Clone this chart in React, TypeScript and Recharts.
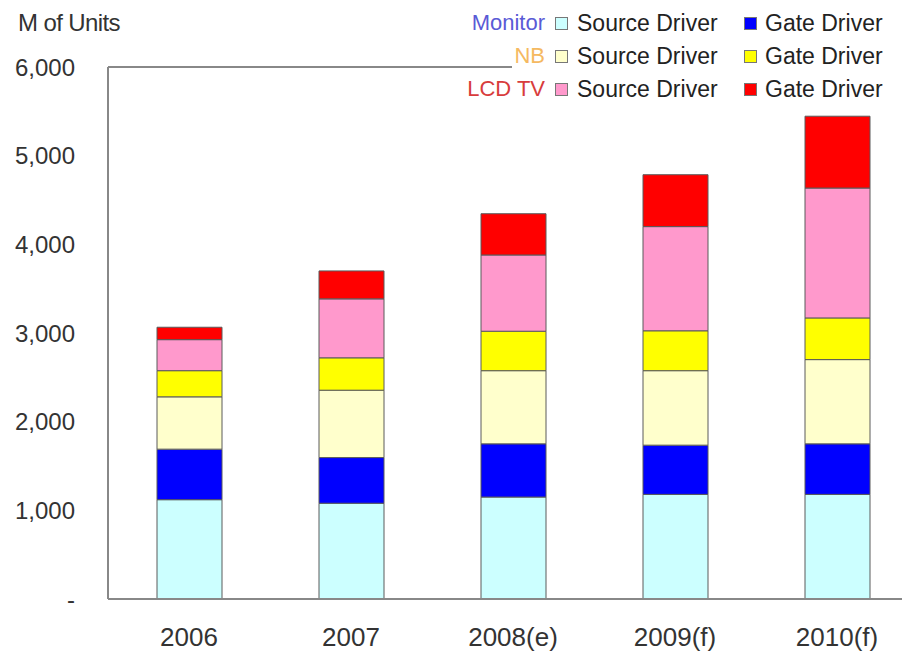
import { Bar, BarChart, Legend, ReferenceLine, XAxis, YAxis } from "recharts";

const years = ["2006", "2007", "2008(e)", "2009(f)", "2010(f)"];
const monitorSource = [1120, 1080, 1150, 1180, 1180];
const monitorGate = [570, 515, 600, 555, 570];
const nbSource = [590, 760, 825, 840, 950];
const nbGate = [295, 365, 445, 450, 470];
const tvSource = [350, 665, 860, 1175, 1465];
const tvGate = [140, 315, 465, 585, 810];
const yTicks = [0, 1000, 2000, 3000, 4000, 5000, 6000];

const data = years.map((year, i) => ({
  year,
  monitorSource: monitorSource[i],
  monitorGate: monitorGate[i],
  nbSource: nbSource[i],
  nbGate: nbGate[i],
  tvSource: tvSource[i],
  tvGate: tvGate[i],
}));

const series = [
  { key: "monitorSource", fill: "#ccffff" },
  { key: "monitorGate", fill: "#0000ff" },
  { key: "nbSource", fill: "#ffffcc" },
  { key: "nbGate", fill: "#ffff00" },
  { key: "tvSource", fill: "#ff99cc" },
  { key: "tvGate", fill: "#ff0000" },
];

const groups = [
  { name: "Monitor", color: "#5a5ad6", source: "#ccffff", gate: "#0000ff" },
  { name: "NB", color: "#f5b961", source: "#ffffcc", gate: "#ffff00" },
  { name: "LCD TV", color: "#d83c3c", source: "#ff99cc", gate: "#ff0000" },
];

const font = '"Liberation Sans", Arial, sans-serif';

function Swatch({ color, left }: { color: string; left: number }) {
  return (
    <span
      style={{
        position: "absolute",
        left,
        top: 10,
        width: 11,
        height: 11,
        background: color,
        border: "1px solid #777",
      }}
    />
  );
}

function LegendBox() {
  return (
    <div style={{ position: "relative", width: 400, height: 100, fontFamily: font, fontSize: 23, color: "#222" }}>
      {groups.map((g, i) => (
        <div key={g.name} style={{ position: "absolute", top: -1 + i * 33, left: 0, width: 400, height: 32, lineHeight: "32px" }}>
          <span style={{ position: "absolute", right: 367, color: g.color, fontSize: 22, whiteSpace: "nowrap" }}>{g.name}</span>
          <Swatch color={g.source} left={43} />
          <span style={{ position: "absolute", left: 65, whiteSpace: "nowrap" }}>Source Driver</span>
          <Swatch color={g.gate} left={232} />
          <span style={{ position: "absolute", left: 253, whiteSpace: "nowrap" }}>Gate Driver</span>
        </div>
      ))}
    </div>
  );
}

export default function App() {
  return (
    <div style={{ position: "relative", width: 902, height: 647, overflow: "hidden", background: "#fff" }}>
      <div
        style={{
          position: "absolute",
          left: 10,
          top: 1,
          fontFamily: font,
          fontSize: 24,
          color: "#333",
          letterSpacing: -0.6,
          whiteSpace: "nowrap",
          zIndex: 2,
        }}
      >
        M of Units
      </div>
      <BarChart width={920} height={647} data={data} margin={{ top: 59, right: 10, left: 0, bottom: 0 }} barSize={65}>
        <XAxis
          dataKey="year"
          height={56}
          tickLine={false}
          tickSize={0}
          tickMargin={29}
          axisLine={{ stroke: "#888", strokeWidth: 2 }}
          tick={{ fill: "#333", fontSize: 26, fontFamily: font }}
        />
        <YAxis
          width={100}
          domain={[0, 6000]}
          ticks={yTicks}
          tickSize={0}
          tickMargin={33}
          tickLine={false}
          axisLine={{ stroke: "#888", strokeWidth: 2 }}
          tickFormatter={(v) => (v === 0 ? "-" : Number(v).toLocaleString("en-US"))}
          tick={{ fill: "#333", fontSize: 24, fontFamily: font }}
        />
        <ReferenceLine y={6000} stroke="#888" strokeWidth={2} />
        {series.map((s) => (
          <Bar key={s.key} dataKey={s.key} stackId="a" fill={s.fill} stroke="#5a5a5a" strokeWidth={1} isAnimationActive={false} />
        ))}
        <Legend
          layout="horizontal"
          verticalAlign="middle"
          align="center"
          content={() => <LegendBox />}
          wrapperStyle={{ left: 504, top: 0, width: 400, height: 100, background: "#fff" }}
        />
      </BarChart>
    </div>
  );
}
